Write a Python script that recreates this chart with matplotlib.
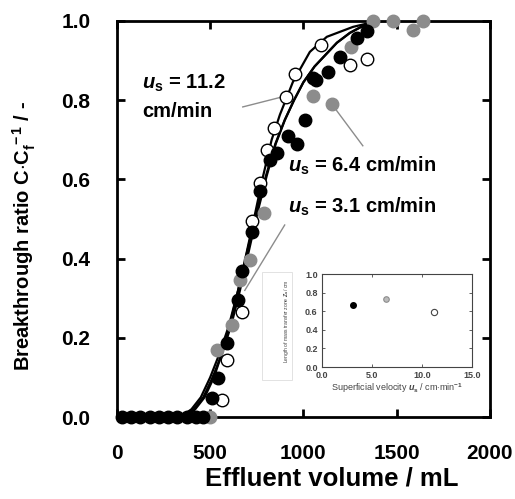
#!/usr/bin/env python3
# -*- coding: utf-8 -*-
"""
Breakthrough curves at three superficial velocities, with an inset of
the length of the mass transfer zone.
"""
import numpy as np
import matplotlib
matplotlib.use("Agg")
import matplotlib.pyplot as plt
from matplotlib.patches import Rectangle

plt.rcParams['font.family'] = ['Liberation Sans', 'DejaVu Sans']
plt.rcParams['mathtext.fontset'] = 'custom'
plt.rcParams['mathtext.rm'] = 'Liberation Sans:bold'
plt.rcParams['mathtext.it'] = 'Liberation Sans:italic:bold'
plt.rcParams['mathtext.bf'] = 'Liberation Sans:bold'

# ---- data ----
# u_s = 3.1 cm/min (black filled)
v_31 = [25, 75, 125, 175, 225, 275, 325, 375, 425, 460, 509, 542, 590, 649,
        670, 724, 767, 820, 858, 917, 965, 1008, 1050, 1070, 1131, 1196,
        1287, 1340]
c_31 = [0, 0, 0, 0, 0, 0, 0, 0, 0, 0, 0.048, 0.098, 0.187, 0.295,
        0.37, 0.467, 0.57, 0.65, 0.667, 0.71, 0.69, 0.75, 0.855, 0.85, 0.87,
        0.91, 0.957, 0.975]
# u_s = 6.4 cm/min (grey filled)
v_64 = [499, 536, 617, 660, 713, 790, 1051, 1153, 1255, 1373, 1480, 1587,
        1640]
c_64 = [0, 0.17, 0.232, 0.346, 0.396, 0.515, 0.81, 0.79, 0.935, 1.0, 1.0,
        0.977, 1.0]
# u_s = 11.2 cm/min (open)
v_112 = [563, 590, 670, 724, 767, 806, 840, 908, 956, 1095, 1250, 1340]
c_112 = [0.043, 0.144, 0.265, 0.495, 0.59, 0.674, 0.73, 0.808, 0.866,
         0.94, 0.89, 0.905]

# model curves
cv_112 = [0, 370, 420, 470, 520, 570, 620, 670, 735, 780, 830, 874, 944,
          1035, 1126, 1266, 1400, 2000]
cc_112 = [0, 0, 0.02, 0.05, 0.10, 0.17, 0.26, 0.36, 0.50, 0.60, 0.70, 0.763,
          0.846, 0.922, 0.96, 0.985, 1.0, 1.0]
cv_31 = [0, 340, 400, 450, 500, 550, 600, 650, 700, 750, 800, 850, 900,
         950, 1000, 1060, 1120, 1180, 1250, 1330, 1420, 2000]
cc_31 = [0, 0, 0.02, 0.05, 0.10, 0.16, 0.23, 0.32, 0.42, 0.52, 0.61, 0.69,
         0.75, 0.80, 0.845, 0.885, 0.915, 0.945, 0.97, 0.99, 1.0, 1.0]
cv_64 = [0, 355, 412, 463, 513, 563, 612, 660, 708, 756, 804, 852, 901,
         950, 1000, 1060, 1120, 1180, 1250, 1330, 1420, 2000]
cc_64 = [0, 0, 0.02, 0.05, 0.10, 0.16, 0.23, 0.32, 0.42, 0.52, 0.61, 0.69,
         0.75, 0.80, 0.845, 0.885, 0.915, 0.945, 0.97, 0.99, 1.0, 1.0]

# inset
us = [3.1, 6.4, 11.2]
za = [0.67, 0.73, 0.59]

GREY = '#8c8c8c'

fig = plt.figure(figsize=(5.15, 4.99), dpi=100)
ax = fig.add_axes([0.227, 0.164, 0.724, 0.794])

# curves
for cv, cc in [(cv_112, cc_112), (cv_31, cc_31), (cv_64, cc_64)]:
    ax.plot(cv, cc, color='black', lw=1.6, zorder=2)

# zero points of the other series sit under the black ones
ax.plot(v_64, c_64, 'o', ms=9, color=GREY, mec=GREY, clip_on=False,
        zorder=3)
ax.plot(v_112, c_112, 'o', ms=9, mfc='white', mec='black', mew=1.0,
        clip_on=False, zorder=4)
ax.plot(v_31, c_31, 'o', ms=9, color='black', clip_on=False, zorder=5)

# annotations
ax.text(135, 0.815, r'$\mathit{u}_\mathrm{s}$ = 11.2', fontsize=14.5,
        fontweight='bold', va='bottom', ha='left')
ax.text(135, 0.795, 'cm/min', fontsize=14.5, fontweight='bold', va='top',
        ha='left')
ax.plot([675, 884], [0.783, 0.808], color=GREY, lw=1.0, zorder=1)

ax.text(920, 0.635, r'$\mathit{u}_\mathrm{s}$ = 6.4 cm/min', fontsize=14.5,
        fontweight='bold', va='center', ha='left')
ax.plot([1153, 1319], [0.79, 0.685], color=GREY, lw=1.0, zorder=1)

ax.text(920, 0.53, r'$\mathit{u}_\mathrm{s}$ = 3.1 cm/min', fontsize=14.5,
        fontweight='bold', va='center', ha='left')
ax.plot([686, 900], [0.32, 0.485], color=GREY, lw=1.0, zorder=1)

ax.set_xlim(0, 2000)
ax.set_ylim(0, 1.0)
ax.set_xticks([0, 500, 1000, 1500, 2000])
ax.set_yticks([0.0, 0.2, 0.4, 0.6, 0.8, 1.0])
ax.set_yticklabels(['0.0', '0.2', '0.4', '0.6', '0.8', '1.0'])
ax.tick_params(direction='in', length=6, width=2, top=True, right=True,
               labelsize=15, pad=19)
for lab in ax.get_xticklabels() + ax.get_yticklabels():
    lab.set_fontweight('bold')
for sp in ax.spines.values():
    sp.set_linewidth(2)
ax.set_xlabel('Effluent volume / mL', fontsize=18.5, fontweight='bold')
ax.xaxis.set_label_coords(0.577, -0.125)
ax.set_ylabel(r'Breakthrough ratio C$\cdot$C$_\mathrm{f}^{\,-1}$ / -',
              fontsize=14.5, fontweight='bold')
ax.yaxis.set_label_coords(-0.212, 0.457)

# inset
axi = fig.add_axes([0.625, 0.2645, 0.291, 0.186])
axi.plot(us[0], za[0], 'o', ms=4, color='black')
axi.plot(us[1], za[1], 'o', ms=4, mfc='#bbbbbb', mec=GREY, mew=0.8)
axi.plot(us[2], za[2], 'o', ms=4.5, mfc='white', mec='#444444', mew=0.8)
axi.set_xlim(0, 15)
axi.set_ylim(0, 1.0)
axi.set_xticks([0, 5, 10, 15])
axi.set_xticklabels(['0.0', '5.0', '10.0', '15.0'])
axi.set_yticks([0.0, 0.2, 0.4, 0.6, 0.8, 1.0])
axi.set_yticklabels(['0.0', '0.2', '0.4', '0.6', '0.8', '1.0'])
axi.tick_params(direction='in', length=2, width=0.6, top=True, right=True,
                labelsize=6.5, colors='#444444', pad=3)
for lab in axi.get_xticklabels() + axi.get_yticklabels():
    lab.set_fontweight('bold')
for sp in axi.spines.values():
    sp.set_linewidth(0.8)
    sp.set_color('#444444')
axi.set_xlabel(r'Superficial velocity $\mathit{u}_\mathrm{s}$ / cm$\cdot$min$^{-1}$',
               fontsize=6.5, color='#444444', labelpad=1)
axi.set_ylabel(r'Length of mass transfer zone $\mathit{Z}_\mathrm{a}$ / cm',
               fontsize=3.6, color='#444444', labelpad=10)
fig.add_artist(Rectangle((262 / 515, 1 - 380 / 499), 30 / 515, 108 / 499,
                         transform=fig.transFigure, fill=False,
                         ec='#dddddd', lw=0.6))

fig.savefig('out.png', dpi=100)
